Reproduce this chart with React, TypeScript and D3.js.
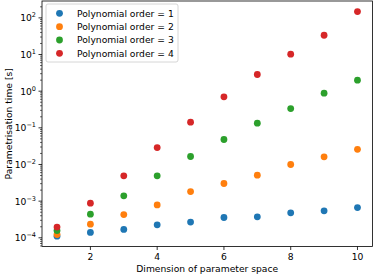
import React, { useEffect, useRef } from 'react';
import * as d3 from 'd3';

const dims = [1, 2, 3, 4, 5, 6, 7, 8, 9, 10];
const order1 = [1.11e-4, 1.4e-4, 1.69e-4, 2.26e-4, 2.68e-4, 3.58e-4, 3.74e-4, 4.8e-4, 5.46e-4, 6.7e-4];
const order2 = [1.23e-4, 2.36e-4, 4.3e-4, 7.9e-4, 1.83e-3, 3.03e-3, 5.1e-3, 0.01, 0.0162, 0.026];
const order3 = [1.58e-4, 4.4e-4, 1.4e-3, 4.9e-3, 0.0165, 0.048, 0.134, 0.336, 0.88, 2.0];
const order4 = [1.96e-4, 8.8e-4, 4.9e-3, 0.029, 0.143, 0.7, 2.85, 10.2, 33.6, 148];
const seriesNames = ['Polynomial order = 1', 'Polynomial order = 2', 'Polynomial order = 3', 'Polynomial order = 4'];
const seriesColors = ['#1f77b4', '#ff7f0e', '#2ca02c', '#d62728'];
const xTicks = [2, 4, 6, 8, 10];
const yExponents = [-4, -3, -2, -1, 0, 1, 2];

const W = 374;
const H = 276;
const margin = { left: 42, right: 1.5, top: 1, bottom: 29.5 };

const App: React.FC = () => {
    const svgRef = useRef<SVGSVGElement>(null);

    useEffect(() => {
        if (!svgRef.current) return;
        const svg = d3.select(svgRef.current);
        svg.selectAll('*').remove();

        const font = 'DejaVu Sans, sans-serif';
        const x0 = margin.left, x1 = W - margin.right;
        const y0 = H - margin.bottom, y1 = margin.top;

        const xScale = d3.scaleLinear().domain([0.55, 10.45]).range([x0, x1]);
        const yScale = d3.scaleLog().domain([Math.pow(10, -4.237), Math.pow(10, 2.46)]).range([y0, y1]);

        // points
        const allSeries = [order1, order2, order3, order4];
        allSeries.forEach((vals, i) => {
            svg.append('g')
                .selectAll('circle')
                .data(vals)
                .enter()
                .append('circle')
                .attr('cx', (_, j) => xScale(dims[j]))
                .attr('cy', d => yScale(d))
                .attr('r', 3.4)
                .attr('fill', seriesColors[i]);
        });

        // frame
        svg.append('rect')
            .attr('x', x0).attr('y', y1)
            .attr('width', x1 - x0).attr('height', y0 - y1)
            .attr('fill', 'none').attr('stroke', '#000').attr('stroke-width', 0.8);

        // x ticks
        const xg = svg.append('g');
        xTicks.forEach(t => {
            const x = xScale(t);
            xg.append('line').attr('x1', x).attr('x2', x).attr('y1', y0).attr('y2', y0 + 3.5)
                .attr('stroke', '#000').attr('stroke-width', 0.8);
            xg.append('text').attr('x', x).attr('y', y0 + 13.5)
                .attr('text-anchor', 'middle').attr('font-family', font).attr('font-size', 9.2)
                .text(String(t));
        });

        // y ticks (major + minor)
        const yg = svg.append('g');
        const [lo, hi] = yScale.domain();
        for (let e = -5; e <= 3; e++) {
            for (let m = 1; m < 10; m++) {
                const v = m * Math.pow(10, e);
                if (v < lo || v > hi) continue;
                const y = yScale(v);
                const len = m === 1 ? 3.5 : 2;
                yg.append('line').attr('x1', x0 - len).attr('x2', x0).attr('y1', y).attr('y2', y)
                    .attr('stroke', '#000').attr('stroke-width', m === 1 ? 0.8 : 0.6);
            }
        }
        yExponents.forEach(e => {
            const y = yScale(Math.pow(10, e));
            const t = yg.append('text').attr('x', x0 - 6).attr('y', y + 3.5)
                .attr('text-anchor', 'end').attr('font-family', font).attr('font-size', 9.2);
            t.append('tspan').text('10');
            t.append('tspan').attr('dy', -4).attr('font-size', 6.5)
                .text(e < 0 ? '\u2212' + Math.abs(e) : String(e));
        });

        // axis labels
        svg.append('text').attr('x', (x0 + x1) / 2).attr('y', H - 4)
            .attr('text-anchor', 'middle').attr('font-family', font).attr('font-size', 9.2)
            .text('Dimension of parameter space');
        svg.append('text')
            .attr('transform', `translate(11.5, ${(y0 + y1) / 2}) rotate(-90)`)
            .attr('text-anchor', 'middle').attr('font-family', font).attr('font-size', 9.2)
            .text('Parametrisation time [s]');

        // legend
        const lg = svg.append('g');
        lg.append('rect').attr('x', 46).attr('y', 4).attr('width', 132).attr('height', 58)
            .attr('rx', 2).attr('fill', '#fff').attr('fill-opacity', 0.8)
            .attr('stroke', '#ccc').attr('stroke-width', 0.8);
        seriesNames.forEach((name, i) => {
            const y = 13.3 + i * 13.35;
            lg.append('circle').attr('cx', 59.5).attr('cy', y).attr('r', 3.4).attr('fill', seriesColors[i]);
            lg.append('text').attr('x', 77).attr('y', y + 3.3)
                .attr('font-family', font).attr('font-size', 9.2).text(name);
        });
    }, []);

    return (
        <svg ref={svgRef} width={W} height={H}
            style={{ position: 'absolute', left: 0, top: 0, background: '#fff' }} />
    );
};

export default App;
